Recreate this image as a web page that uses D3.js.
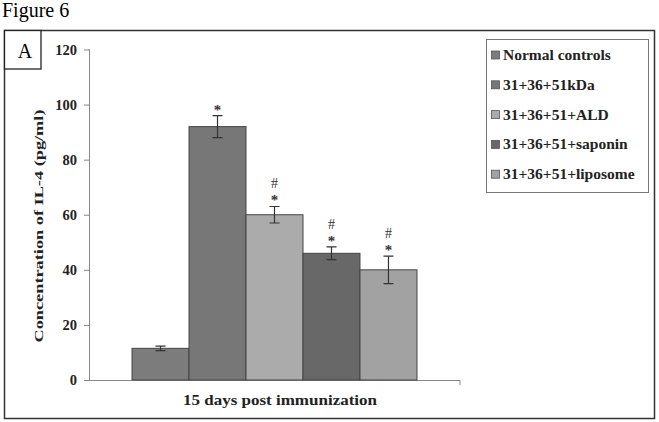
<!DOCTYPE html>
<html><head><meta charset="utf-8">
<script src="https://cdn.jsdelivr.net/npm/d3@7/dist/d3.min.js"></script>
<style>body{margin:0;background:#fff}svg{display:block}text{font-family:"Liberation Serif","Times New Roman",serif}</style>
</head><body><svg id="c" width="659" height="422"></svg>
<script>
const categories = ["15 days post immunization"];
const series = ["Normal controls","31+36+51kDa","31+36+51+ALD","31+36+51+saponin","31+36+51+liposome"];
const values = [11.5, 92, 60, 46, 40];
const errors = [0.8, 4, 3, 2.3, 5];
const marks = ["", "*", "*#", "*#", "*#"];
const colors = ["#7c7c7c","#777777","#ababab","#686868","#a2a2a2"];
const yTicks = [0,20,40,60,80,100,120];

const svg = d3.select("#c");
const M = {left:89, right:460, top:49.5, bottom:380};
const y = d3.scaleLinear().domain([0,120]).range([M.bottom, M.top]);
const x0 = d3.scaleBand().domain(categories).range([M.left, M.right]).paddingInner(0).paddingOuter(0.151);
const x1 = d3.scaleBand().domain(series).range([0, x0.bandwidth()]);

svg.append("text").attr("x",2).attr("y",17).attr("font-size",20).text("Figure 6");
svg.append("rect").attr("x",4.5).attr("y",30.5).attr("width",650).attr("height",388).attr("fill","none").attr("stroke","#333").attr("stroke-width",1.5);
svg.append("rect").attr("x",4.5).attr("y",30.5).attr("width",36.5).attr("height",38.5).attr("fill","#fff").attr("stroke","#222").attr("stroke-width",1.3);
svg.append("text").attr("x",25).attr("y",58).attr("text-anchor","middle").attr("font-size",20).text("A");

// y axis
const ya = svg.append("g").attr("transform",`translate(${M.left},0)`)
  .call(d3.axisLeft(y).tickValues(yTicks).tickSize(5).tickPadding(7));
ya.select(".domain").attr("stroke","#888").attr("d",`M-0.5,${M.top}H0.5V${M.bottom}`);
ya.selectAll(".tick line").attr("stroke","#888");
ya.selectAll(".tick text").attr("font-size",14.5).attr("font-weight","bold").attr("font-family","Liberation Serif, serif").attr("fill","#222");

// x axis
const xa = svg.append("g").attr("transform",`translate(0,${M.bottom})`)
  .call(d3.axisBottom(x0).tickSize(0).tickFormat(""));
xa.select(".domain").attr("stroke","#888").attr("d",`M${M.left},0.5H${M.right}V5`);

svg.append("text").attr("x",280).attr("y",405).attr("text-anchor","middle")
  .attr("font-size",14.5).attr("font-weight","bold").attr("fill","#222")
  .attr("textLength",194).attr("lengthAdjust","spacingAndGlyphs").text(categories[0]);

svg.append("text").attr("transform",`translate(43,226) rotate(-90)`).attr("text-anchor","middle")
  .attr("font-size",13).attr("font-weight","bold").attr("fill","#222")
  .attr("textLength",233).attr("lengthAdjust","spacingAndGlyphs").text("Concentration of IL-4 (pg/ml)");

const g = svg.append("g").attr("transform",`translate(${x0(categories[0])},0)`);
series.forEach((s,i)=>{
  const bx = x1(s), bw = x1.bandwidth(), cx = bx + bw/2;
  g.append("rect").attr("x",bx).attr("y",y(values[i])).attr("width",bw).attr("height",y(0)-y(values[i]))
    .attr("fill",colors[i]).attr("stroke","#444").attr("stroke-width",1);
  const t = y(values[i]+errors[i]), b = y(values[i]-errors[i]);
  g.append("path").attr("d",`M${cx},${t}V${b}M${cx-5},${t}H${cx+5}M${cx-5},${b}H${cx+5}`).attr("stroke","#333").attr("stroke-width",1.2).attr("fill","none");
  if (marks[i].includes("*")) g.append("text").attr("x",cx).attr("y",t-1).attr("text-anchor","middle").attr("font-size",15).attr("font-weight","bold").attr("fill","#333").text("*");
  if (marks[i].includes("#")) g.append("text").attr("x",cx).attr("y",t-18).attr("text-anchor","middle").attr("font-size",14).attr("fill","#333").text("#");
});

// legend
svg.append("rect").attr("x",486.5).attr("y",39.5).attr("width",162).attr("height",153).attr("fill","#fff").attr("stroke","#777").attr("stroke-width",1);
const lg = svg.append("g");
series.forEach((s,i)=>{
  const ly = 55 + i*29.8;
  lg.append("rect").attr("x",491.5).attr("y",ly-4).attr("width",8).attr("height",8).attr("fill",colors[i]).attr("stroke","#555").attr("stroke-width",0.8);
  lg.append("text").attr("x",503).attr("y",ly+5).attr("font-size",15.5).attr("font-weight","bold").attr("fill","#222").text(s);
});
</script></body></html>
